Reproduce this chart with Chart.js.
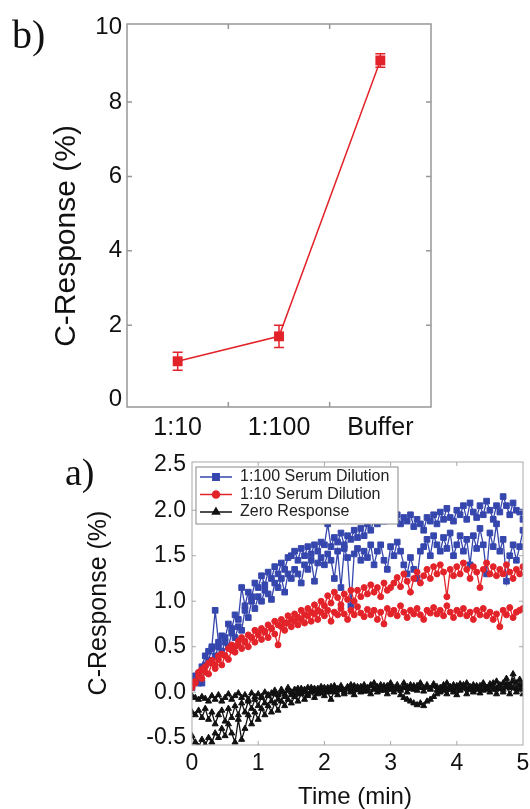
<!DOCTYPE html>
<html lang="en">
<head>
<meta charset="utf-8">
<title>C-Response</title>
<script src="https://cdn.jsdelivr.net/npm/chart.js"></script>
<style>
  html, body { margin: 0; padding: 0; background: #fff; }
  #wrap { position: relative; width: 530px; height: 809px; overflow: hidden; }
  canvas { position: absolute; left: 0; }
  #topChart { top: 0; }
  #bottomChart { top: 445px; }
</style>
</head>
<body>
<div id="wrap">
  <canvas id="topChart" width="530" height="445"></canvas>
  <canvas id="bottomChart" width="530" height="364"></canvas>
</div>
<script>
// ---- panel b) : response vs dilution ----
const dilutions = ['1:10', '1:100', 'Buffer'];
const dilutionResponse = [1.03, 1.70, 9.12];
const dilutionError = [0.24, 0.30, 0.18];
const topYTicks = [0, 2, 4, 6, 8, 10];

// ---- panel a) : response vs time ----
const timeMin = [
  0, 0.05, 0.1, 0.15, 0.2, 0.25, 0.3, 0.35, 0.4, 0.45,
  0.5, 0.55, 0.6, 0.65, 0.7, 0.75, 0.8, 0.85, 0.9, 0.95,
  1, 1.05, 1.1, 1.15, 1.2, 1.25, 1.3, 1.35, 1.4, 1.45,
  1.5, 1.55, 1.6, 1.65, 1.7, 1.75, 1.8, 1.85, 1.9, 1.95,
  2, 2.05, 2.1, 2.15, 2.2, 2.25, 2.3, 2.35, 2.4, 2.45,
  2.5, 2.55, 2.6, 2.65, 2.7, 2.75, 2.8, 2.85, 2.9, 2.95,
  3, 3.05, 3.1, 3.15, 3.2, 3.25, 3.3, 3.35, 3.4, 3.45,
  3.5, 3.55, 3.6, 3.65, 3.7, 3.75, 3.8, 3.85, 3.9, 3.95,
  4, 4.05, 4.1, 4.15, 4.2, 4.25, 4.3, 4.35, 4.4, 4.45,
  4.5, 4.55, 4.6, 4.65, 4.7, 4.75, 4.8, 4.85, 4.9, 4.95,
  5
];
const serum100A = [
  0.12, 0.18, 0.10, 0.28, 0.40, 0.45, 0.50, 0.90, 0.55, 0.62,
  0.60, 0.75, 0.70, 0.85, 0.80, 1.15, 0.95, 1.10, 1.05, 1.20,
  1.15, 1.28, 1.18, 1.32, 1.25, 1.38, 1.30, 1.42, 1.35, 1.48,
  1.50, 1.55, 1.45, 1.58, 1.50, 1.60, 1.52, 1.62, 1.55, 1.65,
  1.62, 1.85, 1.60, 1.70, 1.65, 1.75, 1.62, 1.72, 1.68, 1.78,
  1.70, 1.80, 1.72, 1.85, 1.78, 1.90, 1.85, 1.98, 1.88, 2.00,
  1.92, 2.00, 1.95, 1.85, 1.92, 1.88, 1.95, 1.82, 1.90, 1.85,
  1.78, 1.92, 1.88, 1.95, 1.85, 1.98, 1.90, 2.02, 1.92, 1.88,
  2.00, 1.95, 2.05, 1.90, 2.08, 1.98, 1.92, 2.05, 1.95, 2.10,
  2.00, 1.90, 2.05, 1.98, 2.15, 2.05, 1.95, 2.08, 2.00, 1.98,
  1.90
];
const serum100B = [
  0.05, 0.15, 0.20, 0.10, 0.30, 0.35, 0.48, 0.40, 0.50, 0.45,
  0.55, 0.50, 0.65, 0.60, 0.72, 0.68, 0.90, 0.82, 1.00, 0.92,
  1.05, 1.00, 1.12, 1.08, 1.02, 1.20, 1.15, 1.25, 1.10, 1.30,
  1.25, 1.35, 1.30, 1.20, 1.40, 1.35, 1.45, 1.22, 1.42, 1.48,
  1.40, 1.52, 1.45, 1.25, 1.55, 1.15, 1.58, 1.48, 0.95, 1.52,
  1.58, 1.45, 1.55, 1.48, 1.62, 1.40, 1.55, 1.62, 1.45, 1.35,
  1.60, 1.50, 1.65, 1.55, 1.40, 1.30, 1.48, 1.35, 1.25, 1.55,
  1.60, 1.68, 1.50, 1.72, 1.62, 1.55, 1.70, 1.58, 1.75, 1.50,
  1.62, 1.72, 1.55, 1.68, 1.40, 1.72, 1.58, 1.80, 1.62, 1.30,
  1.75, 1.60, 1.85, 1.55, 1.68, 1.22, 1.50, 1.62, 1.45, 1.60,
  1.78
];
const serum10A = [
  0.08, 0.12, 0.18, 0.25, 0.22, 0.32, 0.35, 0.30, 0.40, 0.42,
  0.40, 0.48, 0.52, 0.50, 0.56, 0.60, 0.55, 0.63, 0.60, 0.68,
  0.65, 0.70, 0.67, 0.74, 0.70, 0.78, 0.74, 0.80, 0.76, 0.84,
  0.80, 0.86, 0.82, 0.90, 0.85, 0.92, 0.88, 0.96, 0.90, 1.00,
  0.95, 1.06, 0.98, 1.10, 1.04, 0.96, 1.08, 1.02, 1.12, 1.00,
  1.12, 1.05, 1.15, 1.08, 1.18, 1.10, 1.15, 1.05, 1.20, 1.12,
  1.15, 1.20, 1.26, 1.16, 1.30, 1.22, 1.10, 1.25, 1.32, 1.20,
  1.28, 1.35, 1.25, 1.38, 1.30, 1.40, 1.32, 1.05, 1.35, 1.28,
  1.38, 1.30, 1.42, 1.35, 1.25, 1.38, 1.32, 1.15, 1.35, 1.42,
  1.30, 1.38, 1.28, 1.35, 1.30, 1.40, 1.32, 1.25, 1.35, 1.30,
  1.38
];
const serum10B = [
  0.05, 0.10, 0.22, 0.15, 0.28, 0.20, 0.32, 0.26, 0.36, 0.30,
  0.40, 0.36, 0.46, 0.44, 0.52, 0.48, 0.56, 0.50, 0.60, 0.55,
  0.63, 0.58, 0.66, 0.60, 0.70, 0.64, 0.52, 0.72, 0.68, 0.76,
  0.72, 0.78, 0.74, 0.80, 0.76, 0.84, 0.78, 0.86, 0.80, 0.88,
  0.84, 0.90, 0.78, 0.88, 0.85, 0.92, 0.86, 0.80, 0.90, 0.85,
  0.94, 0.87, 0.83, 0.91, 0.85, 0.90, 0.80, 0.88, 0.75, 0.92,
  0.86, 0.90, 0.84, 0.95, 0.88, 0.82, 0.90, 0.86, 0.92, 0.85,
  0.80, 0.90, 0.87, 0.93, 0.86, 0.90, 0.84, 0.95, 0.88, 0.82,
  0.90, 0.86, 0.92, 0.84, 0.88, 0.80, 0.90, 0.85, 0.92, 0.84,
  0.88, 0.80, 0.86, 0.72, 0.90, 0.85, 0.93, 0.82, 0.88, 0.90,
  0.92
];
const zeroA = [
  -0.04, -0.06, -0.08, -0.05, -0.07, -0.10, -0.04, -0.08, -0.03, -0.10,
  -0.06, -0.02, -0.08, -0.04, -0.01, -0.06, -0.03, -0.08, -0.01, -0.05,
  -0.02, -0.06, 0.00, -0.04, -0.01, 0.02, -0.03, 0.03, -0.02, 0.05,
  0.00, -0.03, 0.04, 0.00, 0.03, -0.02, 0.05, 0.01, 0.04, -0.01,
  0.05, 0.02, 0.06, 0.00, 0.04, 0.07, 0.02, 0.05, 0.08, 0.03,
  0.06, 0.02, 0.08, 0.04, 0.07, 0.10, 0.05, 0.08, 0.03, 0.07,
  0.10, 0.05, 0.08, 0.04, 0.10, 0.06, 0.08, 0.03, 0.07, 0.10,
  0.05, 0.08, 0.04, 0.09, 0.06, 0.02, 0.07, 0.10, 0.05, 0.08,
  0.04, 0.09, 0.06, 0.10, 0.05, 0.08, 0.03, 0.07, 0.10, 0.05,
  0.09, 0.06, 0.12, 0.05, 0.10, 0.15, 0.08, 0.20, 0.10, 0.14,
  0.08
];
const zeroB = [
  -0.48, -0.55, -0.60, -0.52, -0.58, -0.50, -0.55, -0.45, -0.50, -0.40,
  -0.48, -0.35, -0.45, -0.55, -0.30, -0.52, -0.40, -0.25, -0.35, -0.22,
  -0.30, -0.18, -0.25, -0.15, -0.22, -0.12, -0.20, -0.10, -0.15, -0.08,
  -0.12, -0.05, -0.10, -0.02, -0.08, -0.04, 0.00, -0.06, -0.02, 0.02,
  -0.04, 0.00, -0.08, 0.02, -0.03, 0.03, -0.02, 0.04, 0.00, -0.03,
  0.03, 0.00, 0.05, 0.01, -0.02, 0.04, 0.00, 0.05, 0.02, -0.02,
  0.03, 0.00, 0.04, -0.03, -0.06, -0.08, -0.10, -0.12, -0.14, -0.12,
  -0.15, -0.10, -0.08, -0.05, -0.02, 0.00, 0.02, -0.02, 0.03, 0.00,
  -0.03, 0.02, 0.05, -0.02, 0.03, 0.00, 0.04, -0.01, 0.02, 0.05,
  0.00, 0.03, -0.02, 0.04, 0.00, 0.06, -0.02, 0.05, 0.00, 0.03,
  -0.02
];
const zeroC = [
  -0.22, -0.25, -0.20, -0.28, -0.18, -0.30, -0.22, -0.35, -0.25, -0.20,
  -0.32, -0.18, -0.28, -0.15, -0.25, -0.12, -0.22, -0.10, -0.18, -0.08,
  -0.15, -0.05, -0.12, -0.03, -0.10, -0.02, -0.08, 0.00, -0.05, 0.02,
  -0.03, 0.03, -0.02, 0.04, 0.00, 0.05, 0.01, 0.04, 0.00, 0.06,
  0.02, 0.05, 0.01, 0.07, 0.03, 0.05, 0.00, 0.06, 0.02, 0.07,
  0.03, 0.06, 0.01, 0.05, 0.08, 0.03, 0.06, 0.02, 0.07, 0.04,
  0.08, 0.03, 0.06, 0.02, 0.05, 0.00, 0.04, 0.07, 0.02, 0.05,
  0.01, 0.06, 0.03, 0.07, 0.02, 0.05, 0.08, 0.04, 0.06, 0.02,
  0.07, 0.03, 0.08, 0.04, 0.06, 0.02, 0.07, 0.04, 0.08, 0.03,
  0.06, 0.10, 0.04, 0.08, 0.03, 0.09, 0.05, 0.12, 0.04, 0.08,
  0.02
];
const bottomYTicks = [-0.5, 0, 0.5, 1, 1.5, 2, 2.5];
const bottomXTicks = [0, 1, 2, 3, 4, 5];

const RED = '#e3232a';
const BLUE = '#3546ad';
const SANS = '"Liberation Sans", Arial, Helvetica, sans-serif';
const SERIF = '"Liberation Serif", "Times New Roman", serif';

// framed box with inward tick marks, like the original plots
const framePlugin = {
  id: 'frame',
  afterDatasetsDraw(chart, args, opts) {
    if (!opts.xMarks) return;
    const { ctx, chartArea: a, scales } = chart;
    ctx.save();
    ctx.strokeStyle = opts.color;
    ctx.lineWidth = opts.width;
    ctx.strokeRect(a.left, a.top, a.right - a.left, a.bottom - a.top);
    const len = opts.tick;
    opts.xMarks(scales.x).forEach(px => {
      ctx.beginPath();
      ctx.moveTo(px, a.bottom); ctx.lineTo(px, a.bottom - len);
      ctx.moveTo(px, a.top); ctx.lineTo(px, a.top + len);
      ctx.stroke();
    });
    opts.yMarks(scales.y).forEach(py => {
      ctx.beginPath();
      ctx.moveTo(a.left, py); ctx.lineTo(a.left + len, py);
      ctx.moveTo(a.right, py); ctx.lineTo(a.right - len, py);
      ctx.stroke();
    });
    ctx.restore();
  }
};

// free text: panel letters and axis titles
const textPlugin = {
  id: 'texts',
  afterDraw(chart, args, opts) {
    const ctx = chart.ctx;
    (opts.items || []).forEach(t => {
      ctx.save();
      ctx.translate(t.x, t.y);
      if (t.rotate) ctx.rotate(t.rotate);
      ctx.font = t.font;
      ctx.fillStyle = t.color || '#111';
      ctx.textAlign = t.align || 'center';
      ctx.textBaseline = t.baseline || 'middle';
      ctx.fillText(t.text, 0, 0);
      ctx.restore();
    });
  }
};

// vertical error bars for panel b)
const errorBarPlugin = {
  id: 'errorBars',
  beforeDatasetsDraw(chart, args, opts) {
    if (!opts.color) return;
    const { ctx } = chart;
    const y = chart.scales.y;
    const meta = chart.getDatasetMeta(0);
    ctx.save();
    ctx.strokeStyle = opts.color;
    ctx.lineWidth = 1.5;
    meta.data.forEach((pt, i) => {
      const v = dilutionResponse[i], e = dilutionError[i];
      const y1 = y.getPixelForValue(v + e), y2 = y.getPixelForValue(v - e);
      ctx.beginPath();
      ctx.moveTo(pt.x, y1); ctx.lineTo(pt.x, y2);
      ctx.moveTo(pt.x - 5, y1); ctx.lineTo(pt.x + 5, y1);
      ctx.moveTo(pt.x - 5, y2); ctx.lineTo(pt.x + 5, y2);
      ctx.stroke();
    });
    ctx.restore();
  }
};

// boxed legend inside the plot of panel a)
const boxLegendPlugin = {
  id: 'boxLegend',
  afterDatasetsDraw(chart, args, opts) {
    if (!opts.box) return;
    const { ctx } = chart;
    const entries = chart.data.datasets.filter(d => d.inLegend);
    entries.sort((p, q) => p.legendOrder - q.legendOrder);
    const b = opts.box;
    ctx.save();
    ctx.fillStyle = '#fff';
    ctx.fillRect(b.x, b.y, b.w, b.h);
    ctx.strokeStyle = '#8a8a8a';
    ctx.lineWidth = 1;
    ctx.strokeRect(b.x, b.y, b.w, b.h);
    ctx.font = opts.font;
    ctx.textBaseline = 'middle';
    ctx.textAlign = 'left';
    entries.forEach((d, i) => {
      const yy = b.y + opts.first + i * opts.step;
      const x0 = b.x + 4, x1 = b.x + 36;
      ctx.strokeStyle = d.borderColor;
      ctx.fillStyle = d.backgroundColor;
      ctx.lineWidth = 1.5;
      ctx.beginPath(); ctx.moveTo(x0, yy); ctx.lineTo(x1, yy); ctx.stroke();
      Chart.helpers.drawPoint(ctx, { pointStyle: d.pointStyle, radius: d.pointRadius + 0.5, rotation: 0, borderWidth: 1 }, (x0 + x1) / 2, yy);
      ctx.fillStyle = '#222';
      ctx.fillText(d.label, b.x + 44, yy);
    });
    ctx.restore();
  }
};

Chart.register(framePlugin, textPlugin, errorBarPlugin, boxLegendPlugin);

// ---------- top chart ----------
new Chart(document.getElementById('topChart'), {
  type: 'line',
  data: {
    labels: dilutions,
    datasets: [{
      data: dilutionResponse,
      borderColor: RED,
      backgroundColor: RED,
      borderWidth: 1.5,
      pointStyle: 'rect',
      pointRadius: 7,
      pointBorderWidth: 0,
      tension: 0
    }]
  },
  options: {
    responsive: false,
    animation: false,
    layout: { padding: { top: 24, right: 99, bottom: 0, left: 0 } },
    scales: {
      x: {
        type: 'category',
        offset: true,
        grid: { display: false, drawTicks: false },
        border: { display: false },
        ticks: { color: '#111', font: { family: SANS, size: 25 }, padding: 6 },
        afterFit(s) { s.height = 38; s.paddingLeft = 0; s.paddingRight = 0; }
      },
      y: {
        min: -0.2,
        max: 10.1,
        grid: { display: false, drawTicks: false },
        border: { display: false },
        afterBuildTicks(s) { s.ticks = topYTicks.map(v => ({ value: v })); },
        ticks: { color: '#111', font: { family: SANS, size: 24 }, padding: 5 },
        afterFit(s) { s.width = 127; s.paddingTop = 0; s.paddingBottom = 0; }
      }
    },
    plugins: {
      legend: { display: false },
      tooltip: { enabled: false },
      errorBars: { color: RED },
      frame: {
        color: '#979797', width: 1.5, tick: 5,
        xMarks: x => x.ticks.slice(0, -1).map((t, i) => (x.getPixelForTick(i) + x.getPixelForTick(i + 1)) / 2),
        yMarks: y => topYTicks.filter(v => v > 0 && v < 10).map(v => y.getPixelForValue(v))
      },
      texts: {
        items: [
          { text: 'b)', x: 12, y: 48, font: '40px ' + SERIF, align: 'left', baseline: 'alphabetic' },
          { text: 'C-Response (%)', x: 67, y: 236, font: '30px ' + SANS, rotate: -Math.PI / 2 }
        ]
      }
    }
  }
});

// ---------- bottom chart ----------
function series(label, values, color, style, radius, legendOrder) {
  return {
    label: label,
    data: timeMin.map((t, i) => ({ x: t, y: values[i] })),
    borderColor: color,
    backgroundColor: color,
    borderWidth: 1.3,
    pointStyle: style,
    pointRadius: radius,
    pointBorderWidth: 1,
    tension: 0,
    inLegend: legendOrder !== undefined,
    legendOrder: legendOrder
  };
}

new Chart(document.getElementById('bottomChart'), {
  type: 'line',
  data: {
    datasets: [
      series('Zero Response', zeroA, '#111', 'triangle', 3.5, 2),
      series('Zero Response', zeroB, '#111', 'triangle', 3.5),
      series('Zero Response', zeroC, '#111', 'triangle', 3.5),
      series('1:10 Serum Dilution', serum10A, RED, 'circle', 3, 1),
      series('1:10 Serum Dilution', serum10B, RED, 'circle', 3),
      series('1:100 Serum Dilution', serum100A, BLUE, 'rect', 4, 0),
      series('1:100 Serum Dilution', serum100B, BLUE, 'rect', 4)
    ]
  },
  options: {
    responsive: false,
    animation: false,
    layout: { padding: { top: 17, right: 7, bottom: 0, left: 0 } },
    scales: {
      x: {
        type: 'linear',
        min: 0,
        max: 5,
        grid: { display: false, drawTicks: false },
        border: { display: false },
        afterBuildTicks(s) { s.ticks = bottomXTicks.map(v => ({ value: v })); },
        ticks: { color: '#111', font: { family: SANS, size: 23 }, padding: 5 },
        afterFit(s) { s.height = 64; s.paddingLeft = 0; s.paddingRight = 0; }
      },
      y: {
        min: -0.58,
        max: 2.53,
        grid: { display: false, drawTicks: false },
        border: { display: false },
        afterBuildTicks(s) { s.ticks = bottomYTicks.map(v => ({ value: v })); },
        ticks: { color: '#111', font: { family: SANS, size: 23 }, padding: 6, callback: v => v.toFixed(1) },
        afterFit(s) { s.width = 192; s.paddingTop = 0; s.paddingBottom = 0; }
      }
    },
    plugins: {
      legend: { display: false },
      tooltip: { enabled: false },
      boxLegend: { box: { x: 196, y: 22, w: 202, h: 57 }, first: 10, step: 17.5, font: '16px ' + SANS },
      frame: {
        color: '#a8a8a8', width: 1, tick: 4,
        xMarks: x => [1, 2, 3, 4].map(v => x.getPixelForValue(v)),
        yMarks: y => bottomYTicks.filter(v => v > -0.5 && v < 2.5).map(v => y.getPixelForValue(v))
      },
      texts: {
        items: [
          { text: 'a)', x: 65, y: 40, font: '38px ' + SERIF, align: 'left', baseline: 'alphabetic' },
          { text: 'C-Response (%)', x: 99, y: 158, font: '25px ' + SANS, rotate: -Math.PI / 2 },
          { text: 'Time (min)', x: 355, y: 352, font: '24px ' + SANS }
        ]
      }
    }
  }
});
</script>
</body>
</html>
